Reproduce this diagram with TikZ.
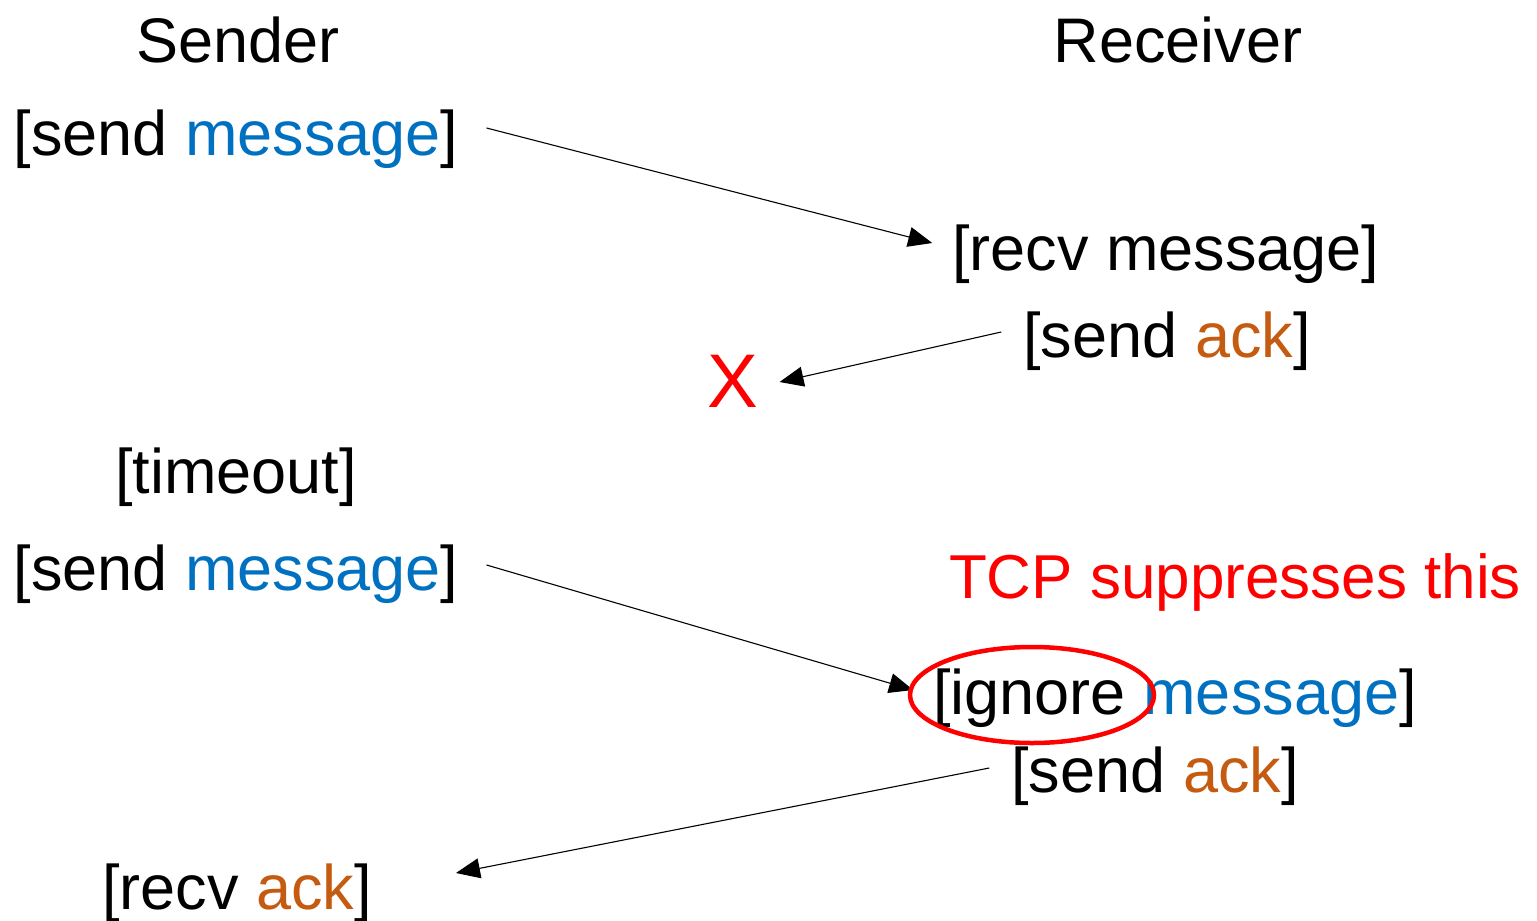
\documentclass[tikz,border=0pt]{standalone}
\usepackage{fontspec}
\setmainfont{Liberation Sans}
\usepackage{xcolor}
\usetikzlibrary{arrows.meta}
\definecolor{msgblue}{RGB}{0,112,192}
\definecolor{ackorange}{RGB}{197,90,17}
\tikzstyle{msgtext} = [inner sep=0pt, font=\fontsize{63}{75}\selectfont, text=black]
\tikzstyle{alert}   = [inner sep=0pt, font=\fontsize{62}{74}\selectfont, text=red]
\tikzstyle{arrow}   = [-{Triangle[length=24pt, width=20pt]}, line width=1.1pt]

\begin{document}
\begin{tikzpicture}[x=1pt, y=-1pt]
    \useasboundingbox (0,0) rectangle (1537,921);
    \node (sender)   [msgtext] at (238,40)  {Sender};
    \node (receiver) [msgtext] at (1178,40) {Receiver};
    \node (send1)    [msgtext] at (236,139) {[send \textcolor{msgblue}{message}]};
    \node (recv1)    [msgtext] at (1166,254) {[recv message]};
    \node (ack1)     [msgtext] at (1167,341) {[send \textcolor{ackorange}{ack}]};
    \node (lost)     [alert, font=\fontsize{76}{90}\selectfont] at (733,381) {X};
    \node (timeout)  [msgtext] at (236,477) {[timeout]};
    \node (send2)    [msgtext] at (236,574) {[send \textcolor{msgblue}{message}]};
    \node (note)     [alert]   at (1235,582) {TCP suppresses this};
    \node (ignore)   [msgtext] at (1175,698) {[ignore \textcolor{msgblue}{message}]};
    \node (ack2)     [msgtext] at (1155,776) {[send \textcolor{ackorange}{ack}]};
    \node (recvack)  [msgtext] at (237,893) {[recv \textcolor{ackorange}{ack}]};

    \draw[arrow] ([shift={(28,-11)}]send1.east) -- ([shift={(-20,-11)}]recv1.west);
    \draw[arrow] ([shift={(-22,-9)}]ack1.west) -- ([shift={(21,1)}]lost.east);
    \draw[arrow] ([shift={(28,-9)}]send2.east) -- ([shift={(-20,-8)}]ignore.west);
    \draw[arrow] ([shift={(-22,-8)}]ack2.west) -- ([shift={(84,-20)}]recvack.east);

    \draw[red, line width=4.5pt] (1032,695) ellipse (122pt and 48pt);
\end{tikzpicture}
\end{document}
